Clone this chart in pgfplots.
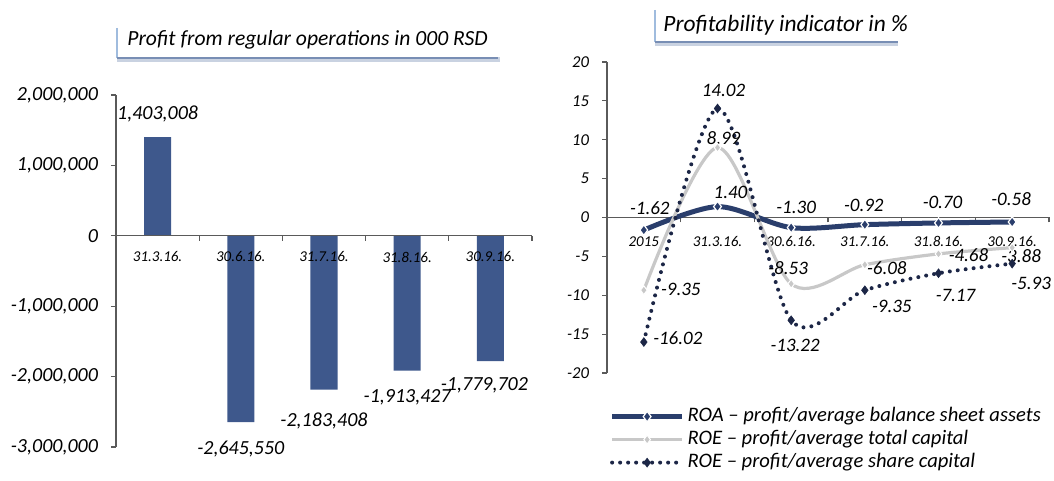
\documentclass[border=0pt]{standalone}
\usepackage{pgfplots}
\pgfplotsset{compat=1.18}
\usepackage{fontspec}
\setmainfont{Carlito}
\definecolor{barblue}{RGB}{62,88,140}
\definecolor{roanavy}{RGB}{42,62,108}
\definecolor{roegray}{RGB}{200,200,200}
\definecolor{dotnavy}{RGB}{28,38,70}
\definecolor{titleblue}{RGB}{160,188,222}
\definecolor{shadowc}{RGB}{120,142,180}
\definecolor{axgray}{RGB}{90,90,90}
\newcommand{\fs}[1]{\itshape\fontsize{#1}{#1}\selectfont}
\begin{document}
\begin{tikzpicture}
\useasboundingbox (0,0) rectangle (527pt,240.5pt);
% titles
\draw[titleblue, line width=1pt] (58.5pt,226.5pt) -- (58.5pt,211.5pt);
\draw[shadowc!40, line width=2.5pt] (58.5pt,210.8pt) -- (250pt,210.8pt);
\draw[shadowc, line width=1pt] (58.5pt,211.5pt) -- (249pt,211.5pt);
\node[font=\fs{10.8}, anchor=west, inner sep=0pt] at (63.5pt,220.5pt) {Profit from regular operations in 000 RSD};
\draw[titleblue, line width=1pt] (327.5pt,235.5pt) -- (327.5pt,219.5pt);
\draw[shadowc!40, line width=2.5pt] (327.5pt,218.8pt) -- (449pt,218.8pt);
\draw[shadowc, line width=1pt] (327.5pt,219.5pt) -- (449pt,219.5pt);
\node[font=\fs{11.7}, anchor=west, inner sep=0pt] at (331.5pt,228pt) {Profitability indicator in \%};

\begin{axis}[
  at={(58pt,17pt)}, anchor=south west,
  scale only axis, width=208pt, height=176pt,
  xmin=0.5, xmax=5.5, ymin=-3000000, ymax=2000000,
  scaled y ticks=false,
  axis on top,
  axis y line=left, axis x line=middle,
  axis line style={-, axgray, line width=0.6pt},
  hide obscured x ticks=false, hide obscured y ticks=false,
  xtick={1,2,3,4,5},
  xticklabels={31.3.16.,30.6.16.,31.7.16.,31.8.16.,30.9.16.},
  major x tick style={draw=none},
  minor xtick={1.5,2.5,3.5,4.5,5.5},
  ytick={-3000000,-2000000,-1000000,0,1000000,2000000},
  yticklabels={{-3,000,000},{-2,000,000},{-1,000,000},0,{1,000,000},{2,000,000}},
  tick align=outside, tick style={axgray, line width=0.6pt},
  major tick length=2.5pt, minor tick length=2.5pt,
  y tick label style={font=\fs{10}, xshift=-3pt},
  x tick label style={font=\fs{7.5}, yshift=-2pt},
  clip=false,
]
\addplot[ybar, bar width=0.325, fill=barblue, draw=none]
  coordinates {(1,1403008) (2,-2645550) (3,-2183408) (4,-1913427) (5,-1779702)};
\node[font=\fs{10}] at (axis cs:1,1403008) [yshift=11.5pt] {1,403,008};
\node[font=\fs{10}] at (axis cs:2,-2645550) [yshift=-13.5pt] {-2,645,550};
\node[font=\fs{10}] at (axis cs:3,-2183408) [yshift=-15.5pt] {-2,183,408};
\node[font=\fs{10}] at (axis cs:4,-1913427) [yshift=-13.5pt] {-1,913,427};
\node[font=\fs{10}] at (axis cs:5,-1779702) [xshift=-3pt, yshift=-12pt] {-1,779,702};
\end{axis}

\begin{axis}[
  at={(303.5pt,54pt)}, anchor=south west,
  scale only axis, width=221pt, height=155.5pt,
  xmin=-0.5, xmax=5.5, ymin=-20, ymax=20,
  axis y line=left, axis x line=middle,
  axis line style={-, axgray, line width=0.6pt},
  hide obscured x ticks=false, hide obscured y ticks=false,
  xtick={0,1,2,3,4,5},
  xticklabels={2015,31.3.16.,30.6.16.,31.7.16.,31.8.16.,30.9.16.},
  major x tick style={draw=none},
  minor xtick={0.5,1.5,2.5,3.5,4.5,5.5},
  ytick={-20,-15,-10,-5,0,5,10,15,20},
  yticklabels={-20,-15,-10,-5,0,5,10,15,20},
  tick align=outside, tick style={axgray, line width=0.6pt},
  major tick length=2.5pt, minor tick length=2.5pt,
  y tick label style={font=\fs{8.3}, xshift=-3pt},
  x tick label style={font=\fs{7.5}, yshift=-3.5pt},
  clip=false,
  legend style={at={(rel axis cs:0.005,-0.11)}, anchor=north west, draw=none, fill=none,
    font=\fs{10.3}, inner sep=0pt, row sep=2.5pt,
    nodes={inner ysep=0pt, inner xsep=1.5pt, text height=7pt, text depth=2pt}},
  legend cell align=left,
  legend image code/.code={\draw[#1, mark repeat=2, mark phase=2] plot coordinates {(0pt,0pt) (17.5pt,0pt) (35pt,0pt)};},
]
\addplot[roanavy, line width=2.5pt, smooth, mark=diamond*, mark size=2.6pt,
  mark options={fill=roanavy, draw=white, line width=0.6pt, solid}]
  coordinates {(0,-1.62) (1,1.40) (2,-1.30) (3,-0.92) (4,-0.70) (5,-0.58)};
\addplot[roegray, line width=1.6pt, smooth, mark=diamond*, mark size=2.2pt,
  mark options={fill=roegray, draw=white, line width=0.5pt, solid}]
  coordinates {(0,-9.35) (1,8.99) (2,-8.53) (3,-6.08) (4,-4.68) (5,-3.88)};
\addplot[dotnavy, line width=2pt, line cap=round, dash pattern=on 0pt off 4pt, smooth,
  mark=diamond*, mark size=2.2pt, mark options={fill=dotnavy, draw=dotnavy, solid, line width=0.3pt}]
  coordinates {(0,-16.02) (1,14.02) (2,-13.22) (3,-9.35) (4,-7.17) (5,-5.93)};
\legend{ROA -- profit/average balance sheet assets, ROE -- profit/average total capital, ROE -- profit/average share capital}
% ROA labels
\node[font=\fs{9.5}] at (axis cs:0,-1.62) [xshift=3pt, yshift=11pt] {-1.62};
\node[font=\fs{9.5}] at (axis cs:1,1.40) [xshift=6.5pt, yshift=7pt] {1.40};
\node[font=\fs{9.5}] at (axis cs:2,-1.30) [xshift=2.5pt, yshift=10pt] {-1.30};
\node[font=\fs{9.5}] at (axis cs:3,-0.92) [xshift=-0.5pt, yshift=9.5pt] {-0.92};
\node[font=\fs{9.5}] at (axis cs:4,-0.70) [xshift=2pt, yshift=10.5pt] {-0.70};
\node[font=\fs{9.5}] at (axis cs:5,-0.58) [xshift=-0.5pt, yshift=11.5pt] {-0.58};
% ROE total labels
\node[font=\fs{9.5}] at (axis cs:0,-9.35) [xshift=18.5pt, yshift=0.5pt] {-9.35};
\node[font=\fs{9.5}] at (axis cs:1,8.99) [xshift=3pt, yshift=5pt] {8.99};
\node[font=\fs{9.5}] at (axis cs:2,-8.53) [xshift=-1.5pt, yshift=8pt] {-8.53};
\node[font=\fs{9.5}] at (axis cs:3,-6.08) [xshift=11pt, yshift=-1.5pt] {-6.08};
\node[font=\fs{9.5}] at (axis cs:4,-4.68) [xshift=15pt, yshift=-0.5pt] {-4.68};
\node[font=\fs{9.5}] at (axis cs:5,-3.88) [xshift=4.5pt, yshift=-4pt] {-3.88};
% ROE share labels
\node[font=\fs{9.5}] at (axis cs:0,-16.02) [xshift=17pt, yshift=2pt] {-16.02};
\node[font=\fs{9.5}] at (axis cs:1,14.02) [xshift=3pt, yshift=9pt] {14.02};
\node[font=\fs{9.5}] at (axis cs:2,-13.22) [xshift=2pt, yshift=-12.5pt] {-13.22};
\node[font=\fs{9.5}] at (axis cs:3,-9.35) [xshift=13.5pt, yshift=-8pt] {-9.35};
\node[font=\fs{9.5}] at (axis cs:4,-7.17) [xshift=8.5pt, yshift=-11pt] {-7.17};
\node[font=\fs{9.5}] at (axis cs:5,-5.93) [xshift=9.5pt, yshift=-10pt] {-5.93};
\end{axis}
\end{tikzpicture}
\end{document}
